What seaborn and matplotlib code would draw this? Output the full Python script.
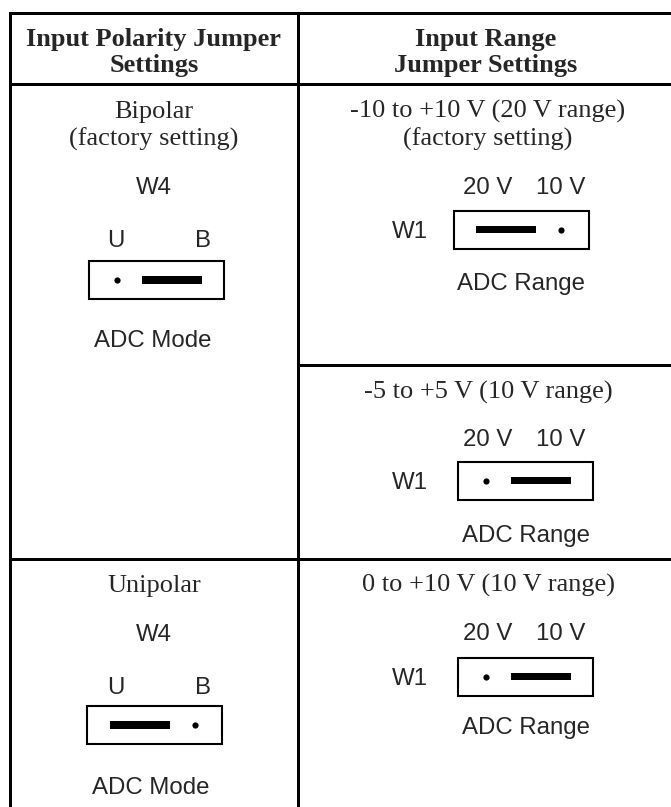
import matplotlib
matplotlib.use("Agg")
import matplotlib.pyplot as plt
from matplotlib.patches import Rectangle
import pandas as pd
import seaborn as sns

# table content
header_left = ["Input Polarity Jumper", "Settings"]
header_right = ["Input Range", "Jumper Settings"]
polarity_modes = [["Bipolar", "(factory setting)"], ["Unipolar"]]
polarity_pins = ["U", "B"]
polarity_jumper = ["B", "U"]  # pin side covered by the shunt
range_modes = [["-10 to +10 V (20 V range)", "(factory setting)"],
               ["-5 to +5 V (10 V range)"],
               ["0 to +10 V (10 V range)"]]
range_pins = ["20 V", "10 V"]
range_jumper = ["20 V", "10 V", "10 V"]
polarity_name, polarity_caption = "W4", "ADC Mode"
range_name, range_caption = "W1", "ADC Range"

# layout (pixels, y down)
W, H = 671, 807
X_L, X_M, X_R = 10, 298, 671
Y_TOP, Y_HEAD, Y_MID, Y_ROW = 12.5, 84, 364.5, 558.5
CX_L, CX_R = 154, 488
LINE_STEP = 28
BASE = 8.7  # cap centre -> baseline

left_title_y = [109, 583]
left_name_y = [185.5, 632]
left_pin_y = [238, 685]
left_box_y = [280, 725]
left_cap_y = [338, 785]
left_box_x = [156.5, 154.5]
left_pin_x = [116, 203]

right_title_y = [109, 390, 583]
right_pin_y = [185, 437, 631]
right_box_y = [229.5, 480.5, 676.5]
right_cap_y = [281, 533, 725]
right_box_x = [521, 525.5, 525.5]
right_pin_x = [487.5, 561]
right_name_x = 410

sns.set_theme(style="white")
plt.rcParams["font.family"] = ["Liberation Sans", "DejaVu Sans"]
SERIF = ["Liberation Serif", "DejaVu Serif"]
SANS = ["Liberation Sans", "DejaVu Sans"]
FS_SERIF, FS_SANS = 19, 17.3

fig = plt.figure(figsize=(W / 100, H / 100), dpi=100)
ax = fig.add_axes([0, 0, 1, 1])
ax.set_xlim(0, W)
ax.set_ylim(H, 0)
ax.axis("off")

lw = 3 * 0.72
kw = dict(color="black", lw=lw, solid_capstyle="projecting")
ax.plot([X_L, X_R], [Y_TOP, Y_TOP], **kw)
ax.plot([X_L, X_R], [Y_HEAD, Y_HEAD], **kw)
ax.plot([X_M, X_R], [Y_MID, Y_MID], **kw)
ax.plot([X_L, X_R], [Y_ROW, Y_ROW], **kw)
ax.plot([X_L, X_L], [Y_TOP, H], **kw)
ax.plot([X_M, X_M], [Y_TOP, H], **kw)


def serif(x, y, s, bold=False):
    ax.text(x, y + BASE, s, ha="center", va="baseline", family=SERIF,
            fontsize=FS_SERIF, fontweight="bold" if bold else "normal")


def sans(x, y, s):
    ax.text(x, y + BASE, s, ha="center", va="baseline", family=SANS,
            fontsize=FS_SANS)


for i, s in enumerate(header_left):
    serif(CX_L, 37 + 26 * i, s, bold=True)
for i, s in enumerate(header_right):
    serif(CX_R - 2, 37 + 26 * i, s, bold=True)

dots = []


def jumper(cx, cy, side):
    ax.add_patch(Rectangle((cx - 67.5, cy - 19), 135, 38, fill=False,
                           ec="black", lw=1.5))
    bx = cx - 45 if side == 0 else cx - 15
    ax.add_patch(Rectangle((bx, cy - 3.6), 60, 7.2, fc="black", lw=0))
    dots.append({"x": cx + 40 if side == 0 else cx - 40, "y": cy})


for i, lines in enumerate(polarity_modes):
    for j, s in enumerate(lines):
        serif(CX_L, left_title_y[i] + LINE_STEP * j, s)
    sans(CX_L, left_name_y[i], polarity_name)
    for k, p in enumerate(polarity_pins):
        sans(left_pin_x[k], left_pin_y[i], p)
    jumper(left_box_x[i], left_box_y[i], polarity_pins.index(polarity_jumper[i]))
    sans(left_box_x[i] - 4, left_cap_y[i], polarity_caption)

for i, lines in enumerate(range_modes):
    for j, s in enumerate(lines):
        serif(CX_R, right_title_y[i] + LINE_STEP * j, s)
    for k, p in enumerate(range_pins):
        sans(right_pin_x[k], right_pin_y[i], p)
    sans(right_name_x, right_box_y[i], range_name)
    jumper(right_box_x[i], right_box_y[i], range_pins.index(range_jumper[i]))
    sans(right_box_x[i], right_cap_y[i], range_caption)

dot_df = pd.DataFrame(dots)
sns.scatterplot(data=dot_df, x="x", y="y", ax=ax, color="black", s=20,
                linewidth=0, legend=False)
ax.set_xlim(0, W)
ax.set_ylim(H, 0)
ax.axis("off")

fig.savefig("out.png", dpi=100, facecolor="white")
